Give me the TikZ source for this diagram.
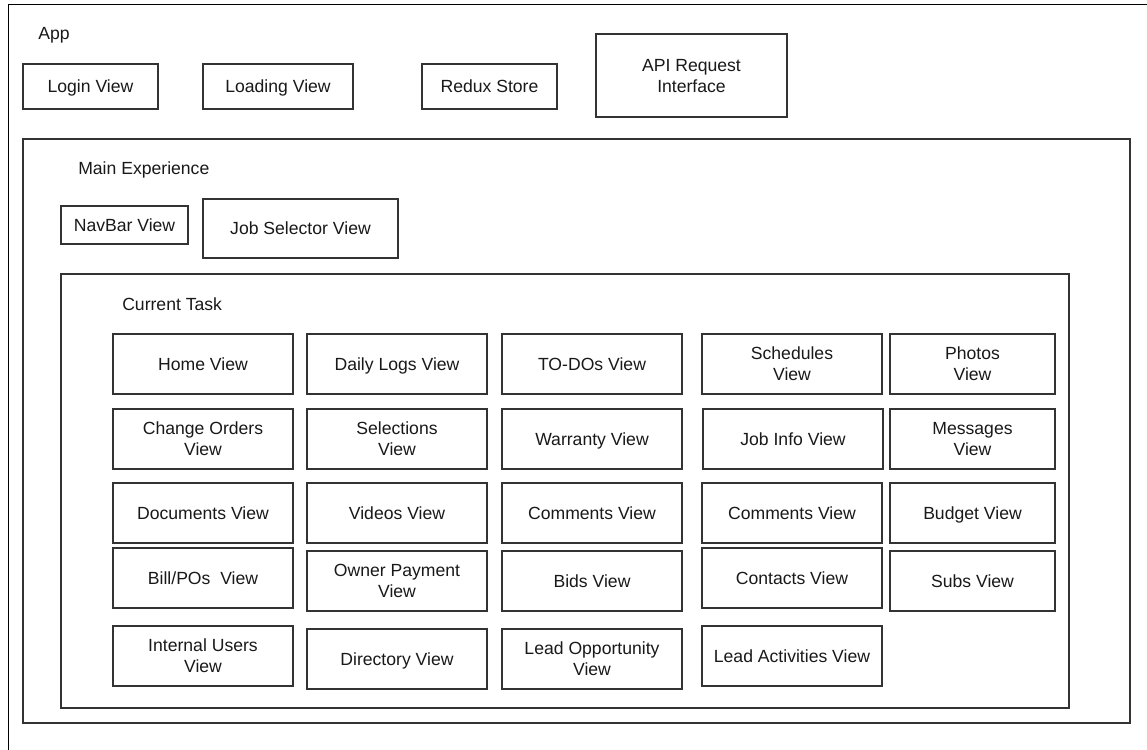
\documentclass[tikz,border=0pt]{standalone}
\usepackage{fontspec}
\setmainfont{Liberation Sans}
\newcommand{\bxstrut}{\rule[-3.2pt]{0pt}{15.8pt}}
\begin{document}
\begin{tikzpicture}[x=0.75pt,y=-0.75pt,
  box/.style={draw=black!80,line width=1pt,inner sep=0pt,outer sep=0pt,align=center,
    font=\fontsize{13.2}{15.8}\selectfont,text=black!90},
  frame/.style={draw=black!80,line width=1pt,inner sep=0pt,outer sep=0pt},
  lbl/.style={anchor=west,inner sep=0pt,font=\fontsize{13.2}{15.8}\selectfont,text=black!90}]
\newcommand{\bx}[7][box]{\node[#1,minimum width={(#5-#3)*0.75pt},minimum height={(#6-#4)*0.75pt}] (#2) at ({(#3+#5)/2},{(#4+#6)/2}) {\bxstrut #7\bxstrut};}
\useasboundingbox (0,0) rectangle (1147,750);
\begin{scope}
\clip (0,0) rectangle (1147,750);
\fill[white] (0,0) rectangle (1147,750);
% outer App container (cut by the picture edge)
\coordinate (appTR) at (1160,4.5);
\coordinate (appTL) at (8.5,4.5);
\coordinate (appBL) at (8.5,760);
\draw[black,line width=1.3pt] (appTR) -- (appTL) -- (appBL);
\end{scope}
% containers
\node[frame,minimum width={(1130-23)*0.75pt},minimum height={(723-139)*0.75pt}] (main) at ({(23+1130)/2},{(139+723)/2}) {};
\node[frame,minimum width={(1069-61)*0.75pt},minimum height={(708-274)*0.75pt}] (task) at ({(61+1069)/2},{(274+708)/2}) {};
\node[lbl] (applbl) at (38,35) {App};
\node[lbl] (mainlbl) at (78,170) {Main Experience};
\node[lbl] (tasklbl) at (122,304) {Current Task};
% top row
\bx{login}{23}{64}{158}{109}{Login View}
\bx{loading}{203}{64}{353}{109}{Loading View}
\bx{redux}{422}{64}{557}{109}{Redux Store}
\bx{api}{596}{34}{787}{117}{API Request\\Interface}
% main experience
\bx{navbar}{61}{206}{188}{244}{NavBar View}
\bx{jobsel}{203}{199}{398}{258}{Job Selector View}
% grid row 1
\bx{home}{113}{334}{293}{394}{Home View}
\bx{daily}{307}{334}{487}{394}{Daily Logs View}
\bx{todos}{502}{334}{682}{394}{TO-DOs View}
\bx{sched}{702}{334}{882}{394}{Schedules\\View}
\bx{photos}{890}{334}{1055}{394}{Photos\\View}
% row 2
\bx{change}{113}{409}{293}{469}{Change Orders\\View}
\bx{select}{307}{409}{487}{469}{Selections\\View}
\bx{warranty}{502}{409}{682}{469}{Warranty View}
\bx{jobinfo}{703}{409}{883}{469}{Job Info View}
\bx{messages}{890}{409}{1055}{469}{Messages\\View}
% row 3
\bx{docs}{113}{483}{293}{543}{Documents View}
\bx{videos}{307}{483}{487}{543}{Videos View}
\bx{commentsA}{502}{483}{682}{543}{Comments View}
\bx{commentsB}{702}{483}{882}{543}{Comments View}
\bx{budget}{890}{483}{1055}{543}{Budget View}
% row 4
\bx{bill}{113}{548}{293}{608}{Bill/POs\ \ View}
\bx{owner}{307}{551}{487}{611}{Owner Payment\\View}
\bx{bids}{502}{551}{682}{611}{Bids View}
\bx{contacts}{702}{548}{882}{608}{Contacts View}
\bx{subs}{890}{551}{1055}{611}{Subs View}
% row 5
\bx{internal}{113}{626}{293}{686}{Internal Users\\View}
\bx{directory}{307}{629}{487}{689}{Directory View}
\bx{leadopp}{502}{629}{682}{689}{Lead Opportunity\\View}
\bx{leadact}{702}{626}{882}{686}{Lead Activities View}
\end{tikzpicture}
\end{document}
